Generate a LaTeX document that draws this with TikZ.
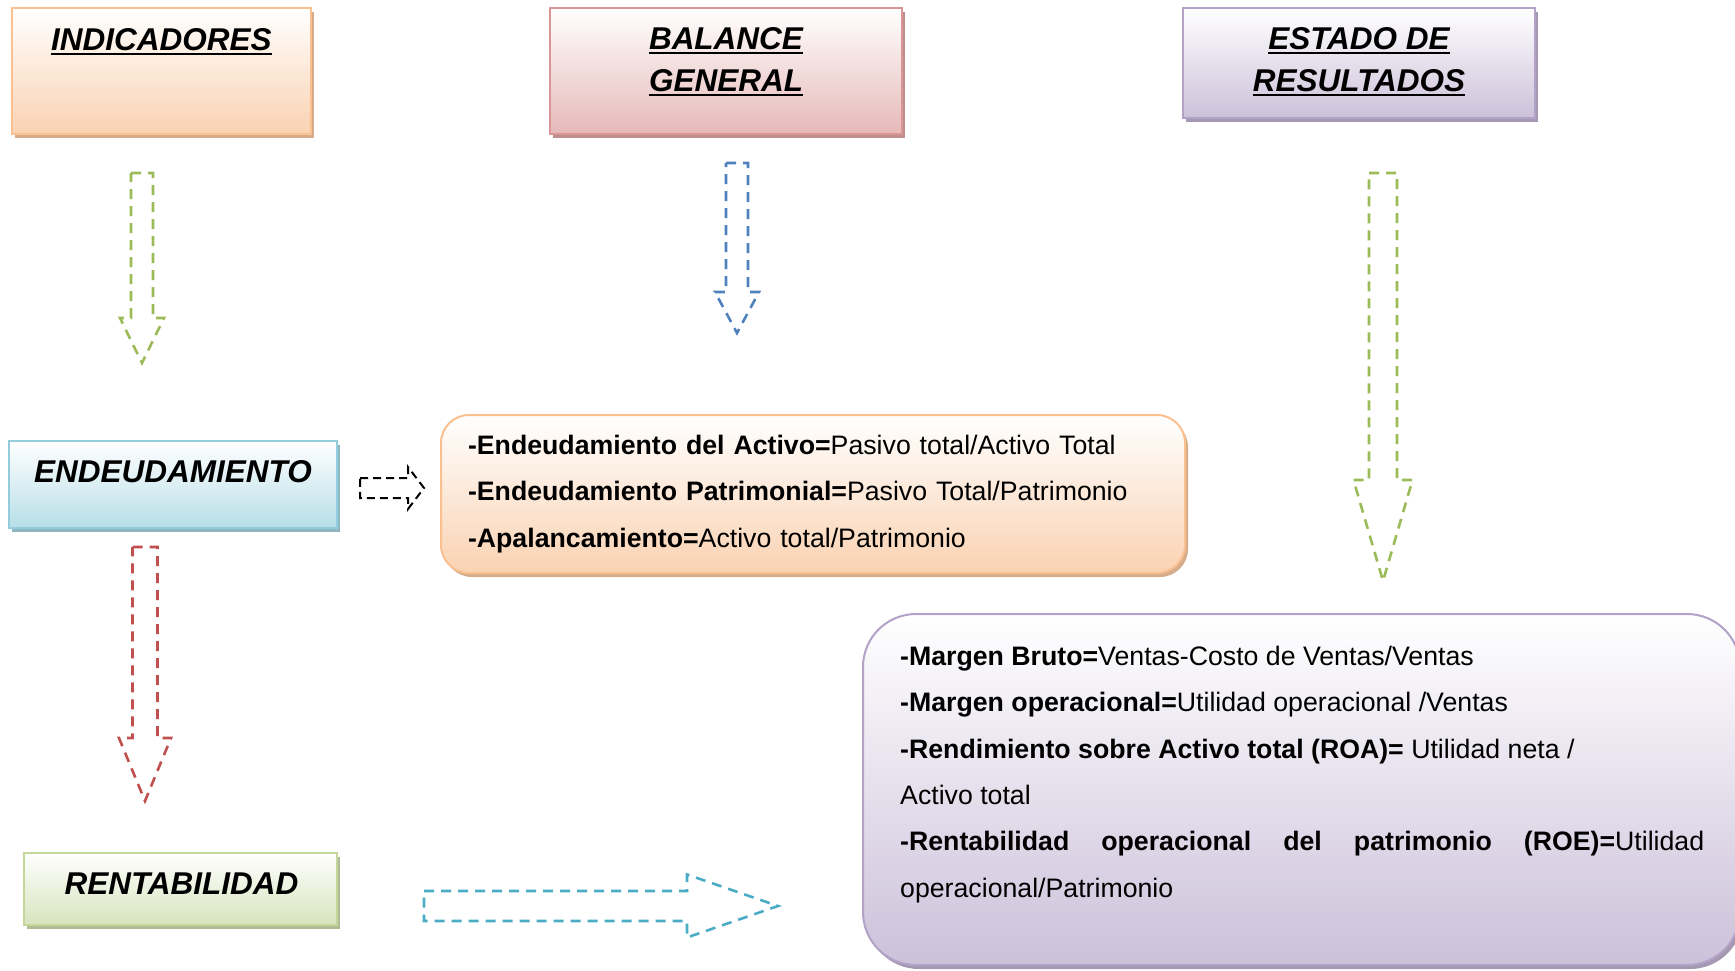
\documentclass[tikz,border=0pt]{standalone}
\usepackage{fontspec}
\setmainfont{Liberation Sans}
\usetikzlibrary{positioning,shadows}
\definecolor{indicline}{HTML}{FAC090}
\definecolor{indicfill}{HTML}{FAD2B2}
\definecolor{balanceline}{HTML}{D99694}
\definecolor{balancefill}{HTML}{E6B9B8}
\definecolor{estadoline}{HTML}{B3A2C7}
\definecolor{estadofill}{HTML}{CCC1DA}
\definecolor{endeudline}{HTML}{93CDDD}
\definecolor{endeudfill}{HTML}{B7DEE8}
\definecolor{rentabline}{HTML}{C3D69B}
\definecolor{rentabfill}{HTML}{D7E4BD}
\definecolor{arrowgreen}{HTML}{9BBB59}
\definecolor{arrowblue}{HTML}{4F81BD}
\definecolor{arrowred}{HTML}{C0504D}
\definecolor{arrowcyan}{HTML}{4BACC6}
\newcommand{\titlefont}{\fontsize{31.5bp}{42bp}\selectfont\bfseries\itshape}
\newcommand{\bodyfont}{\fontsize{26.7bp}{46.3bp}\selectfont}
\newcommand{\thickul}[1]{\setbox0\hbox{#1}\rlap{\rule[-5bp]{\wd0}{2.6bp}}\box0}
\tikzset{colourbox/.style={draw=#1line,line width=2bp,top color=white,bottom color=#1fill,
        drop shadow={shadow xshift=3bp,shadow yshift=-4bp,fill=#1line!70!gray,opacity=1}},
    titletext/.style={font=\titlefont,align=center,inner sep=0},
    bodytext/.style={font=\bodyfont,align=left,inner sep=0},
    blockarrow/.style={line width=2.6bp,dash pattern=on 10bp off 7bp}
}
\newcommand{\downblockarrow}[7]
{
% args: (colour, x of centre, y of top, y of head base, y of tip, half shaft width, half head width)
    \draw [blockarrow,#1] ({#2-#6},#3) -- ({#2+#6},#3) -- ({#2+#6},#4) -- ({#2+#7},#4)
        -- (#2,#5) -- ({#2-#7},#4) -- ({#2-#6},#4) -- cycle;
}
\newcommand{\rightblockarrow}[7]
{
% args: (colour, y of centre, x of left end, x of head base, x of tip, half shaft width, half head width)
    \draw [blockarrow,#1] (#3,{#2-#6}) -- (#4,{#2-#6}) -- (#4,{#2-#7}) -- (#5,#2)
        -- (#4,{#2+#7}) -- (#4,{#2+#6}) -- (#3,{#2+#6}) -- cycle;
}
\begin{document}
\begin{tikzpicture}[x=1bp,y=-1bp]
\useasboundingbox (0,0) rectangle (1735,970);

\node (indic) [colourbox=indic,minimum width=299bp,minimum height=126bp] at (161.5,71) {};
\node (balance) [colourbox=balance,minimum width=352bp,minimum height=126bp] at (726,71) {};
\node (estado) [colourbox=estado,minimum width=352bp,minimum height=110bp] at (1359,63) {};
\node (endeud) [colourbox=endeud,minimum width=328bp,minimum height=87bp] at (173,484.5) {};
\node (rentab) [colourbox=rentab,minimum width=313bp,minimum height=72bp] at (180.5,889) {};

\node (indicT) [titletext,below=21bp of indic.north] {\thickul{INDICADORES}};
\node (balanceT) [titletext,below=20bp of balance.north] {\thickul{BALANCE}\\\thickul{GENERAL}};
\node (estadoT) [titletext,below=20bp of estado.north] {\thickul{ESTADO DE}\\\thickul{RESULTADOS}};
\node (endeudT) [titletext,below=20bp of endeud.north] {ENDEUDAMIENTO};
\node (rentabT) [titletext,below=21bp of rentab.north,xshift=1bp] {RENTABILIDAD};

% formula boxes
\node (formbox) [colourbox=indic,rounded corners=28bp,minimum width=744bp,minimum height=158bp,
    text width=690bp,inner xsep=27bp,inner ysep=0,font=\bodyfont,align=left] at (813,494)
    {\textbf{-Endeudamiento del Activo=}Pasivo total/Activo Total\\
     \textbf{-Endeudamiento Patrimonial=}Pasivo Total/Patrimonio\\
     \textbf{-Apalancamiento=}Activo total/Patrimonio};

\node (resbox) [colourbox=estado,rounded corners=53bp,minimum width=877bp,minimum height=351bp] at (1301.5,789.5) {};
\node (restext) [bodytext,below right=33bp and 38bp of resbox.north west]
    {\textbf{-Margen Bruto=}Ventas-Costo de Ventas/Ventas\\
     \textbf{-Margen operacional=}Utilidad operacional /Ventas\\
     \textbf{-Rendimiento sobre Activo total (ROA)=} Utilidad neta /\\
     Activo total\\
     \makebox[804bp][s]{\textbf{-Rentabilidad operacional del patrimonio (ROE)=}Utilidad}\\
     operacional/Patrimonio};

% arrows
\downblockarrow{arrowgreen}{142}{173}{318}{363}{11}{22}
\downblockarrow{arrowblue}{737}{163}{292}{333}{11}{22}
\downblockarrow{arrowgreen}{1383}{173}{480}{581}{14}{29.5}
\downblockarrow{arrowred}{145}{547}{738}{801}{12.5}{26}
\rightblockarrow{black,line width=2bp,dash pattern=on 8bp off 5bp}{488}{360}{408}{424}{10}{21}
\rightblockarrow{arrowcyan}{906}{424}{687}{778}{15}{31.5}

\end{tikzpicture}
\end{document}
